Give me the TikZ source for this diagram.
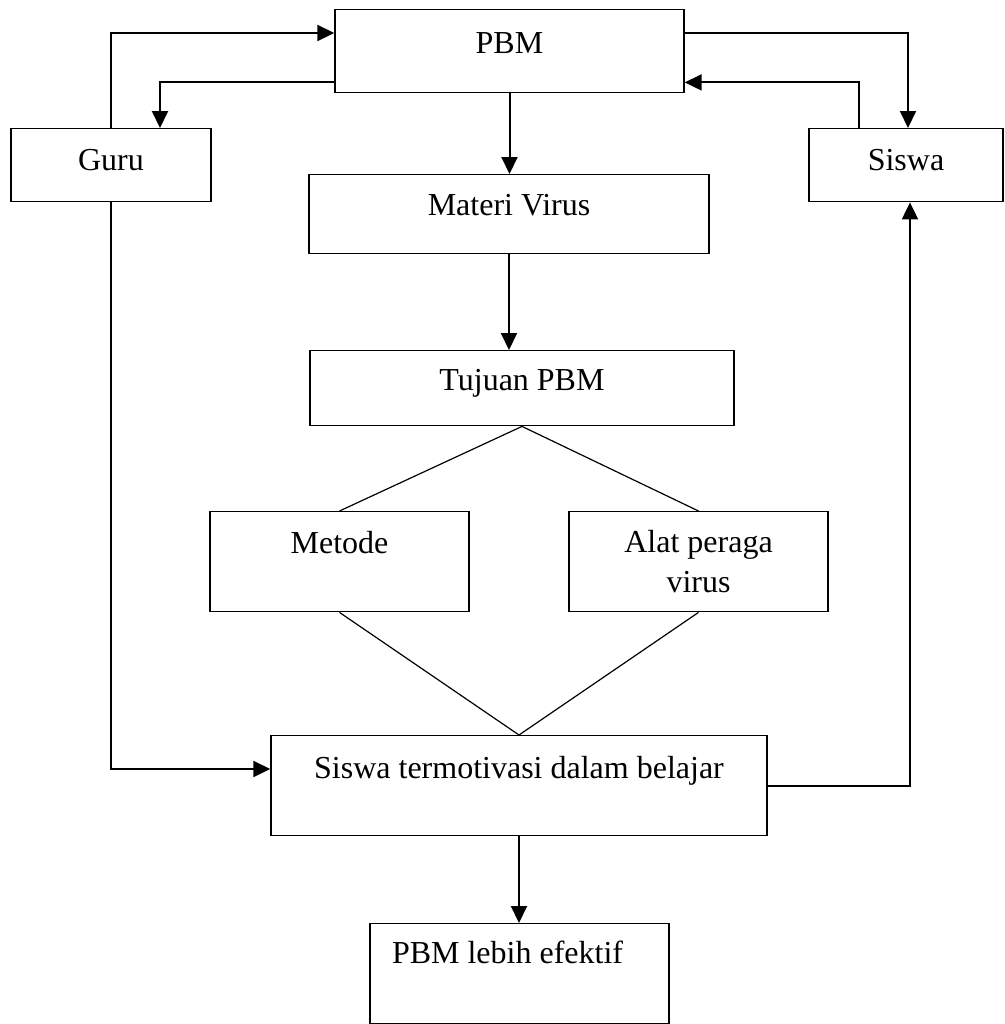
\documentclass[tikz,border=0pt]{standalone}
\usepackage{fontspec}
\setmainfont{Liberation Serif}
\usetikzlibrary{arrows.meta}
\usetikzlibrary{calc}

\tikzset{
	kotak/.style={draw, line width=0.7pt, anchor=north, inner xsep=0pt, inner ysep=0pt, font=\fontsize{16}{20}\selectfont},
	panah/.style={line width=1pt, -{Triangle[length=8.5pt,width=8pt]}},
	garis/.style={line width=0.6pt}
}

\begin{document}
\begin{tikzpicture}[x=0.5pt, y=-0.5pt]
	\useasboundingbox (0,0) rectangle (1005,1024);

	% Top row
	\node[kotak, minimum width=174.5pt, text height=22pt, text depth=19.5pt] (pbm) at (509.5,9) {PBM};
	\node[kotak, minimum width=100pt, text height=21pt, text depth=15.5pt] (guru) at (111,128) {Guru};
	\node[kotak, minimum width=97pt, text height=21pt, text depth=15.5pt] (siswa) at (906,128) {Siswa};

	% Middle column
	\node[kotak, minimum width=200pt, text height=20.5pt, text depth=19pt] (materi) at (509,174) {Materi Virus};
	\node[kotak, minimum width=212pt, text height=20pt, text depth=17.5pt] (tujuan) at (522,350) {Tujuan PBM};
	\node[kotak, minimum width=129.5pt, text height=21pt, text depth=29pt] (metode) at (339.5,511) {Metode};
	\node[kotak, minimum width=129.5pt, minimum height=50pt, align=center] (alat) at (698.5,511) {Alat peraga\\virus};

	% Bottom
	\node[kotak, minimum width=248pt, text height=21.5pt, text depth=28.5pt] (motiv) at (519,735) {Siswa termotivasi dalam belajar};
	\node[kotak, text width=127.5pt, inner xsep=11pt, align=flush left, text height=20pt, text depth=30pt] (efektif) at (519.5,923) {PBM lebih efektif};

	% Guru and Siswa loops
	\draw[panah] (guru.north) |- ([yshift=-12pt]pbm.north west);
	\draw[panah] ([yshift=5.5pt]pbm.south west) -| ([xshift=24.5pt]guru.north);
	\draw[panah] ([yshift=-12pt]pbm.north east) -| ([xshift=1pt]siswa.north);
	\draw[panah] ([xshift=-23.5pt]siswa.north) |- ([yshift=5.5pt]pbm.south east);

	% Down the middle
	\draw[panah] (pbm.south) -- (pbm.south |- materi.north);
	\draw[panah] (materi.south) -- (materi.south |- tujuan.north);
	\draw[garis] (metode.north) -- (tujuan.south) -- (alat.north);
	\draw[garis] (metode.south) -- (motiv.north) -- (alat.south);

	% Side lines
	\draw[panah] (guru.south) |- ([yshift=-17pt]motiv.north west);
	\draw[panah] (motiv.east) -| ([xshift=2pt]siswa.south);
	\draw[panah] (motiv.south) -- (motiv.south |- efektif.north);
\end{tikzpicture}
\end{document}
